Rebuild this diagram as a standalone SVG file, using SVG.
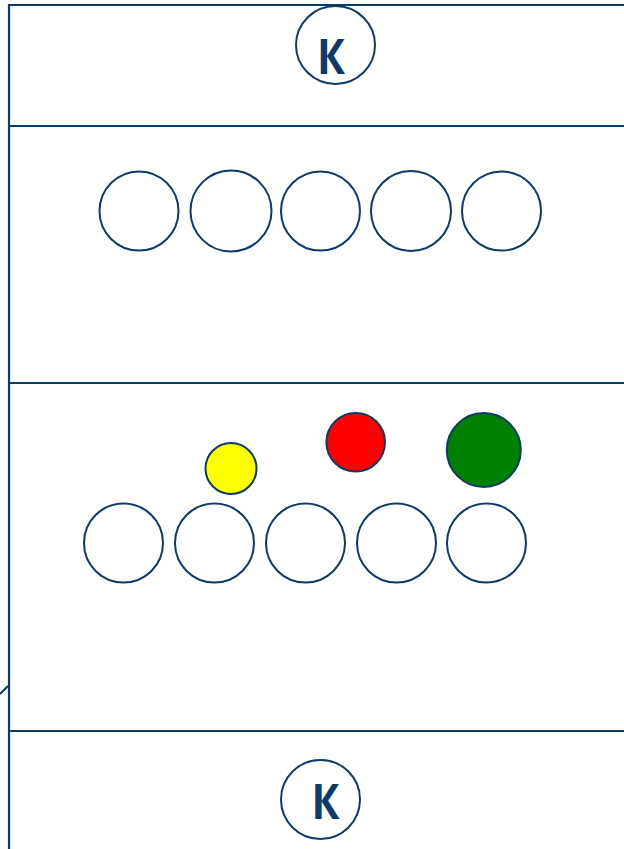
<svg xmlns="http://www.w3.org/2000/svg" width="624" height="849" viewBox="0 0 624 849">
<style>
.ln{stroke:#0e3a6a;stroke-width:2.2;fill:none}
.c{stroke:#0e3a6a;stroke-width:2;fill:#ffffff}
.k{font-family:"Open Sans","Liberation Sans",sans-serif;font-weight:bold;font-size:49px;fill:#0e3a6a;text-anchor:middle}
</style>
<rect width="624" height="849" fill="#ffffff"/>
<g id="connectors">
<line class="ln" x1="9" y1="5" x2="624" y2="5"/>
<line class="ln" x1="9" y1="4" x2="9" y2="849"/>
<line class="ln" x1="9" y1="126" x2="624" y2="126"/>
<line class="ln" x1="9" y1="383" x2="624" y2="383"/>
<line class="ln" x1="9" y1="731" x2="624" y2="731"/>
<line class="ln" x1="0" y1="694" x2="8" y2="686" stroke-width="1.5"/>
</g>
<g id="k-top"><ellipse class="c" cx="335.5" cy="45" rx="39.5" ry="39"/><text class="k" transform="translate(331 74) scale(0.85 1)">К</text></g>
<g id="k-bottom"><circle class="c" cx="320.5" cy="799.5" r="39.5"/><text class="k" transform="translate(325.5 819) scale(0.85 1)">К</text></g>
<g id="r1c1"><circle class="c" cx="139" cy="211" r="39.5"/></g>
<g id="r1c2"><circle class="c" cx="231" cy="211" r="40.5"/></g>
<g id="r1c3"><circle class="c" cx="320.5" cy="211" r="39.5"/></g>
<g id="r1c4"><circle class="c" cx="411" cy="211" r="40"/></g>
<g id="r1c5"><circle class="c" cx="501.5" cy="211" r="39.5"/></g>
<g id="r2c1"><circle class="c" cx="123.5" cy="543" r="39.5"/></g>
<g id="r2c2"><circle class="c" cx="214.5" cy="543" r="39.5"/></g>
<g id="r2c3"><circle class="c" cx="305.5" cy="543" r="39.5"/></g>
<g id="r2c4"><circle class="c" cx="396.5" cy="543" r="39.5"/></g>
<g id="r2c5"><circle class="c" cx="486.5" cy="543" r="39.5"/></g>
<g id="yellow"><circle class="c" cx="231" cy="468.5" r="25.5" style="fill:#ffff00"/></g>
<g id="red"><circle class="c" cx="355.7" cy="442.3" r="29.3" style="fill:#ff0000"/></g>
<g id="green"><circle class="c" cx="483.8" cy="450" r="37" style="fill:#008000"/></g>
</svg>
